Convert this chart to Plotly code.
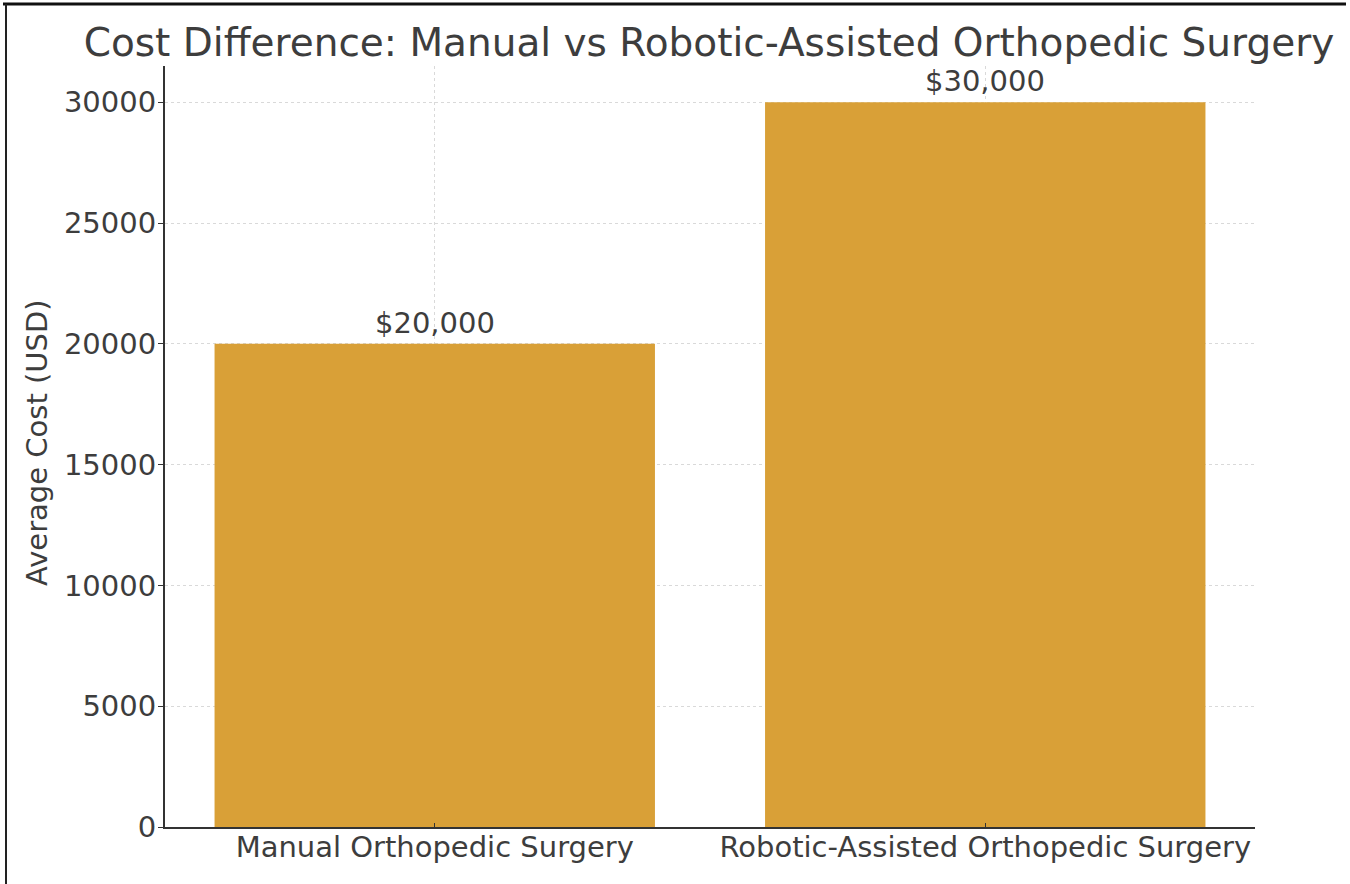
import plotly.graph_objects as go

categories = ["Manual Orthopedic Surgery", "Robotic-Assisted Orthopedic Surgery"]
costs = [20000, 30000]
labels = ["$20,000", "$30,000"]
y_ticks = [0, 5000, 10000, 15000, 20000, 25000, 30000]

W, H = 1350, 884
L, R, T, B = 165, 1255, 66, 827
pw, ph = R - L, B - T

FONT = "DejaVu Sans"
TXT = "#3d3d3d"

fig = go.Figure()
fig.add_trace(go.Bar(
    x=[0, 1], y=costs, width=0.8,
    marker=dict(color="#D9A037", line=dict(width=0)),
    hoverinfo="skip",
))

for i, (v, lab) in enumerate(zip(costs, labels)):
    fig.add_annotation(x=i, y=v, text=lab, showarrow=False,
                       yanchor="bottom", yshift=2,
                       font=dict(family=FONT, size=29, color=TXT))

fig.add_annotation(xref="paper", yref="paper",
                   x=(37 - L) / pw, y=(B - 443) / ph,
                   text="Average Cost (USD)", textangle=-90, showarrow=False,
                   xanchor="center", yanchor="middle",
                   font=dict(family=FONT, size=29, color=TXT))

# outer frame lines of the image
fig.add_shape(type="line", xref="paper", yref="paper",
              x0=(3 - L) / pw, x1=(1346 - L) / pw,
              y0=(B - 4) / ph, y1=(B - 4) / ph,
              line=dict(color="#111111", width=3))
fig.add_shape(type="line", xref="paper", yref="paper",
              x0=(6 - L) / pw, x1=(6 - L) / pw,
              y0=(B - 4) / ph, y1=(B - 884) / ph,
              line=dict(color="#222222", width=2))

fig.update_layout(
    width=W, height=H,
    margin=dict(l=L, r=W - R, t=T, b=H - B, pad=0),
    paper_bgcolor="white", plot_bgcolor="white",
    showlegend=False,
    title=dict(text="Cost Difference: Manual vs Robotic-Assisted Orthopedic Surgery",
               x=709 / W, xanchor="center", xref="container",
               y=1 - 42 / H, yanchor="middle", yref="container",
               font=dict(family=FONT, size=39, color=TXT)),
    font=dict(family=FONT, color=TXT),
)

fig.update_xaxes(
    range=[-0.49, 1.49], tickmode="array", tickvals=[0, 1], ticktext=categories,
    showline=True, linecolor="#333333", linewidth=2, mirror=False,
    ticks="inside", ticklen=4, tickcolor="#333333", ticklabelstandoff=-7,
    showgrid=True, gridcolor="#d9d9d9", griddash="dot", gridwidth=1,
    tickfont=dict(family=FONT, size=29, color=TXT), zeroline=False,
)
fig.update_yaxes(
    range=[0, 31500], tickmode="array", tickvals=y_ticks,
    ticktext=[str(v) for v in y_ticks],
    showline=True, linecolor="#333333", linewidth=2, mirror=False,
    ticks="outside", ticklen=5, tickcolor="#333333", ticklabelstandoff=-4,
    showgrid=True, gridcolor="#d9d9d9", griddash="dot", gridwidth=1,
    tickfont=dict(family=FONT, size=29, color=TXT), zeroline=False,
)

fig.write_html("out.html")
